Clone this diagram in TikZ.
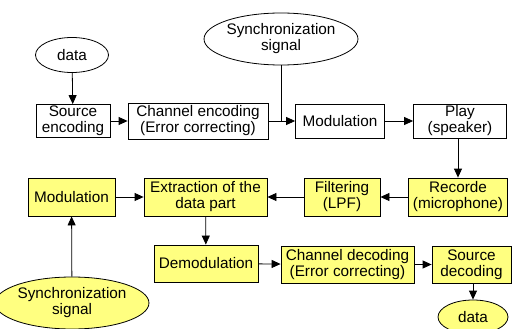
\documentclass[tikz,border=0pt]{standalone}
\usepackage{fontspec}
\setmainfont{Liberation Sans}
\usetikzlibrary{arrows.meta,shapes.geometric}

\tikzset{
  blk/.style={draw, line width=0.8pt, inner sep=0pt, align=center},
  rx/.style={blk, fill=recvyellow},
  oval/.style={draw, line width=0.8pt, ellipse, inner sep=0pt, align=center},
  arr/.style={line width=0.8pt, -{Triangle[length=9pt,width=8pt]}},
  ln/.style={line width=0.8pt}
}
\definecolor{recvyellow}{RGB}{255,255,128}

\begin{document}
\begin{tikzpicture}[x=1pt,y=-1pt,font=\fontsize{15.3}{16}\selectfont]
\useasboundingbox (0,0) rectangle (512,329);

% sending side
\node[oval, minimum width=73, minimum height=35] (data) at (72,55) {data};
\node[oval, minimum width=153, minimum height=52] (sync) at (281,39) {Synchronization\\signal};

\node[blk, minimum width=74, minimum height=33] (srcenc) at (73,121) {Source\\encoding};
\node[blk, minimum width=140, minimum height=36] (chenc) at (198,121) {Channel encoding\\(Error correcting)};
\node[blk, minimum width=89, minimum height=34] (mod) at (340,121) {Modulation};
\node[blk, minimum width=93, minimum height=34] (play) at (460,121) {Play\\(speaker)};
\coordinate (join) at (281,121);

% receiving side
\node[rx, minimum width=99, minimum height=38] (rec) at (458,197) {Recorde\\(microphone)};
\node[rx, minimum width=76, minimum height=38] (filt) at (342,197) {Filtering\\(LPF)};
\node[rx, minimum width=123, minimum height=38] (extr) at (205.5,197) {Extraction of the\\data part};
\node[rx, minimum width=87, minimum height=38] (rmod) at (71.5,197) {Modulation};
\node[rx, minimum width=104, minimum height=37] (demod) at (206,263.5) {Demodulation};
\node[rx, minimum width=133, minimum height=37] (chdec) at (347.5,264.5) {Channel decoding\\(Error correcting)};
\node[rx, minimum width=79, minimum height=37] (srcdec) at (471.5,264.5) {Source\\decoding};
\node[oval, fill=recvyellow, minimum width=70, minimum height=34] (rdata) at (473,317) {data};
\node[oval, fill=recvyellow, minimum width=130, minimum height=52] (rsync) at (72,303) {Synchronization\\signal};

\draw[arr] (data) -- (srcenc);
\draw[arr] (srcenc) -- (chenc);
\draw[arr] (chenc) -- (mod);
\draw[ln] (sync.south) -- (join);
\draw[arr] (mod) -- (play);
\draw[arr] (play.south -| rec.north) -- (rec.north);

\draw[arr] (rec) -- (filt);
\draw[arr] (filt) -- (extr);
\draw[arr] (rmod) -- (extr);
\draw[arr] (rsync) -- (rmod);
\draw[arr] (extr) -- (demod);
\draw[arr] (demod) -- (chdec);
\draw[arr] (chdec) -- (srcdec);
\draw[arr] (srcdec.south -| rdata.north) -- (rdata);
\end{tikzpicture}
\end{document}
